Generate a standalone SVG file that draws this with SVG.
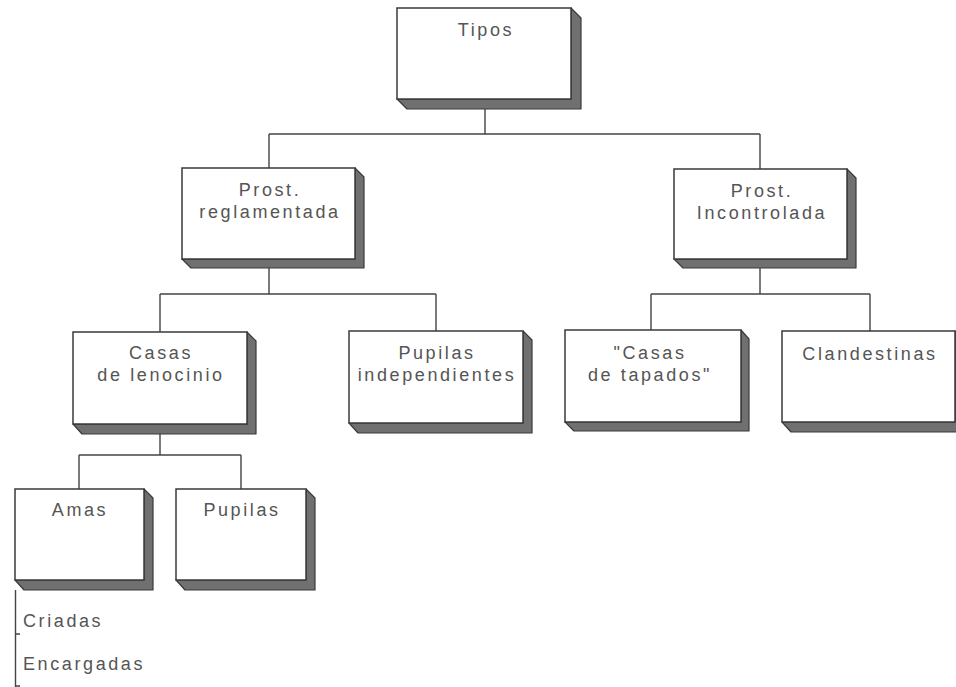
<svg xmlns="http://www.w3.org/2000/svg" width="956" height="687" viewBox="0 0 956 687">
<style>
.face{fill:#fff;stroke:#3a3a3a;stroke-width:1.5}
.side{fill:#707070;stroke:#3a3a3a;stroke-width:1.2;stroke-linejoin:round}
.lbl{font-family:"Liberation Sans",Arial,sans-serif;font-size:18px;letter-spacing:2.6px;fill:#555;text-anchor:middle}
.plain{font-family:"Liberation Sans",Arial,sans-serif;font-size:18px;letter-spacing:2.6px;fill:#555}
.ln{stroke:#444;stroke-width:1.4;fill:none}
</style>
<rect width="956" height="687" fill="#fff"/>
<g id="connectors">
<path class="ln" d="M485 109V134M269 134H760M269 134V168M760 134V169"/>
<path class="ln" d="M269 268V294M160 294H436M160 294V332M436 294V331"/>
<path class="ln" d="M760 268V294M651 294H870M651 294V330M870 294V331"/>
<path class="ln" d="M160 434V455M79 455H241M79 455V489M241 455V489"/>
<path class="ln" d="M15.5 590V687M15.5 634H20M15.5 686H20"/>
</g>
<g id="tipos">
<polygon class="side" points="571,8 581,18 581,109 407,109 397,99 571,99"/>
<rect class="face" x="397" y="8" width="174" height="91"/>
<text class="lbl" x="486" y="36">Tipos</text>
</g>
<g id="prost-reglamentada">
<polygon class="side" points="355,168 364,177 364,268 191,268 182,259 355,259"/>
<rect class="face" x="182" y="168" width="173" height="91"/>
<text class="lbl" x="270" y="196">Prost.</text>
<text class="lbl" x="270" y="218">reglamentada</text>
</g>
<g id="prost-incontrolada">
<polygon class="side" points="847,169 856,178 856,268 683,268 674,259 847,259"/>
<rect class="face" x="674" y="169" width="173" height="90"/>
<text class="lbl" x="762" y="197">Prost.</text>
<text class="lbl" x="762" y="219">Incontrolada</text>
</g>
<g id="casas-lenocinio">
<polygon class="side" points="247,332 256,341 256,434 82,434 73,424 247,424"/>
<rect class="face" x="73" y="332" width="174" height="92"/>
<text class="lbl" x="161" y="359">Casas</text>
<text class="lbl" x="161" y="381">de lenocinio</text>
</g>
<g id="pupilas-independientes">
<polygon class="side" points="523,331 532,340 532,433 358,433 349,423 523,423"/>
<rect class="face" x="349" y="331" width="174" height="92"/>
<text class="lbl" x="437" y="359">Pupilas</text>
<text class="lbl" x="437" y="381">independientes</text>
</g>
<g id="casas-tapados">
<polygon class="side" points="741,330 749,339 749,431 574,431 565,422 741,422"/>
<rect class="face" x="565" y="330" width="176" height="92"/>
<text class="lbl" x="650" y="359">"Casas</text>
<text class="lbl" x="650" y="381">de tapados"</text>
</g>
<g id="clandestinas">
<polygon class="side" points="955,331 964,340 964,432 791,432 782,422 955,422"/>
<rect class="face" x="782" y="331" width="173" height="91"/>
<text class="lbl" x="870" y="360">Clandestinas</text>
</g>
<g id="amas">
<polygon class="side" points="144,489 153,498 153,590 24,590 15,580 144,580"/>
<rect class="face" x="15" y="489" width="129" height="91"/>
<text class="lbl" x="80" y="516">Amas</text>
</g>
<g id="pupilas">
<polygon class="side" points="306,489 315,498 315,590 185,590 176,580 306,580"/>
<rect class="face" x="176" y="489" width="130" height="91"/>
<text class="lbl" x="242" y="516">Pupilas</text>
</g>
<g id="sub-amas">
<text class="plain" x="23" y="627">Criadas</text>
<text class="plain" x="23" y="670">Encargadas</text>
</g>
</svg>
